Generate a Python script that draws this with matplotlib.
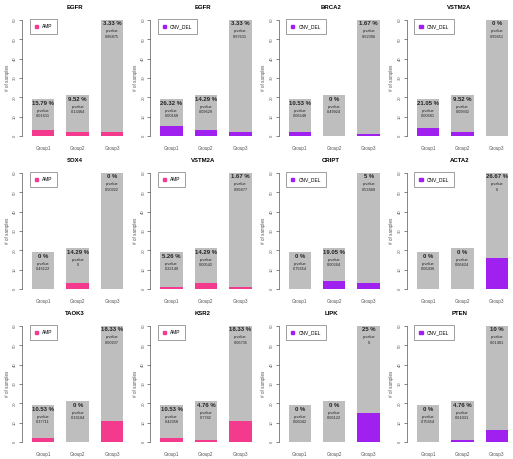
import matplotlib
matplotlib.use("Agg")
import matplotlib.pyplot as plt
from matplotlib.patches import Rectangle

groups = ["Group1", "Group2", "Group3"]
group_totals = [19, 21, 60]

genes = ["EGFR", "EGFR", "BRCA2", "VSTM2A",
         "SOX4", "VSTM2A", "CRIPT", "ACTA2",
         "TAOK3", "KSR2", "LIPK", "PTEN"]
kinds = ["AMP", "CNV_DEL", "CNV_DEL", "CNV_DEL",
         "AMP", "AMP", "CNV_DEL", "CNV_DEL",
         "AMP", "AMP", "CNV_DEL", "CNV_DEL"]
altered = [[3, 2, 2], [5, 3, 2], [2, 0, 1], [4, 2, 0],
           [0, 3, 0], [1, 3, 1], [0, 4, 3], [0, 0, 16],
           [2, 0, 11], [2, 1, 11], [0, 0, 15], [0, 1, 6]]
percents = [["15.79 %", "9.52 %", "3.33 %"], ["26.32 %", "14.29 %", "3.33 %"],
            ["10.53 %", "0 %", "1.67 %"], ["21.05 %", "9.52 %", "0 %"],
            ["0 %", "14.29 %", "0 %"], ["5.26 %", "14.29 %", "1.67 %"],
            ["0 %", "19.05 %", "5 %"], ["0 %", "0 %", "26.67 %"],
            ["10.53 %", "0 %", "18.33 %"], ["10.53 %", "4.76 %", "18.33 %"],
            ["0 %", "0 %", "25 %"], ["0 %", "4.76 %", "10 %"]]
pvalues = [["0.01611", "0.13464", "0.86875"], ["0.00168", "0.09629", "0.97631"],
           ["0.06548", "0.49924", "0.62396"], ["0.00681", "0.09932", "0.99451"],
           ["0.46122", "0", "0.50922"], ["0.22149", "0.00542", "0.89477"],
           ["0.75654", "0.00364", "0.53469"], ["0.06436", "0.06624", "0"],
           ["0.37711", "0.16184", "0.00207"], ["0.42358", "0.7782", "0.06735"],
           ["0.06042", "0.06122", "0"], ["0.75654", "0.61031", "0.01481"]]

colors = {"AMP": "#F43A8C", "CNV_DEL": "#A020F0"}
W, H = 513, 459

plt.rcParams['font.family'] = ['Liberation Sans', 'DejaVu Sans']
fig = plt.figure(figsize=(W / 100, H / 100), dpi=100)

xs = range(len(groups))
for i, gene in enumerate(genes):
    r, c = divmod(i, 4)
    left = c * 128.25 + 22
    top = r * 153 + 17
    ax = fig.add_axes([left / W, 1 - (top + 122) / H, 105 / W, 122 / H])
    ax.bar(xs, group_totals, width=0.65, color="#BEBEBE")
    ax.bar(xs, altered[i], width=0.65, color=colors[kinds[i]])
    for x in xs:
        t = group_totals[x]
        ax.text(x, t - 2, percents[i][x], ha="center", va="center",
                fontsize=4.3, fontweight="bold", color="#222222")
        ax.text(x, t - 5.8, "p-value", ha="center", va="center",
                fontsize=2.8, color="#222222")
        ax.text(x, t - 8.6, pvalues[i][x], ha="center", va="center",
                fontsize=2.8, color="#222222")
    ax.set_xlim(-0.615, 2.43)
    ax.set_ylim(-1.5, 61.5)
    for s in ["top", "right", "bottom"]:
        ax.spines[s].set_visible(False)
    ax.spines["left"].set_bounds(0, 60)
    ax.spines["left"].set_linewidth(0.5)
    ax.spines["left"].set_color("#555555")
    ax.set_yticks(range(0, 61, 10))
    ax.set_yticklabels([str(v) for v in range(0, 61, 10)], rotation=90,
                       va="center", fontsize=3, color="#555555")
    ax.tick_params(axis="y", length=2, width=0.5, pad=1.5, color="#555555")
    ax.set_xticks(list(xs))
    ax.set_xticklabels(groups, fontsize=3.3, color="#555555")
    ax.tick_params(axis="x", length=0, pad=5)
    ax.set_ylabel("# of samples", fontsize=3.3, color="#555555", labelpad=2.5)
    ax.set_title(gene, fontsize=4.3, fontweight="bold", pad=6)
    leg = ax.legend([Rectangle((0, 0), 1, 1, color=colors[kinds[i]])], [kinds[i]],
                    loc="upper left", bbox_to_anchor=(0.05, 1.0), fontsize=3.5,
                    frameon=True, fancybox=False, handlelength=0.7,
                    handleheight=0.7, borderpad=1.0, handletextpad=0.8)
    leg.get_frame().set_edgecolor("#555555")
    leg.get_frame().set_linewidth(0.5)

fig.savefig("out.png", dpi=100)
